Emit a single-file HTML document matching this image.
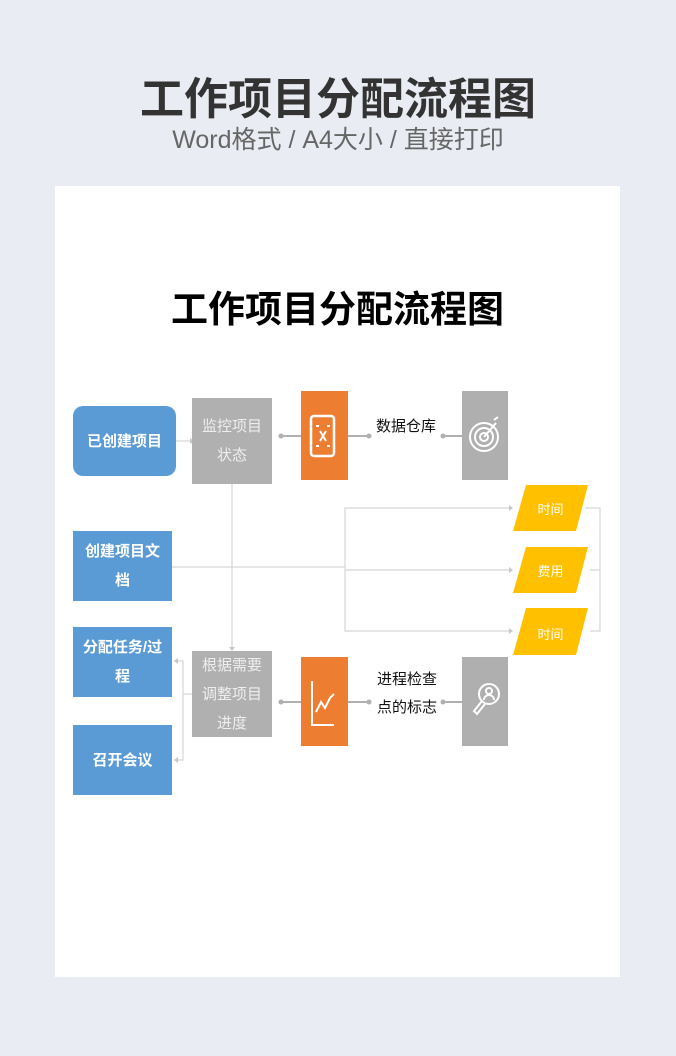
<!DOCTYPE html>
<html><head><meta charset="utf-8">
<style>
*{margin:0;padding:0;box-sizing:border-box}
body{width:676px;height:1056px;background:#e9edf3;position:relative;overflow:hidden;font-family:"Liberation Sans","Noto Sans CJK SC",sans-serif}
.a{position:absolute}
.t{display:flex;align-items:center;justify-content:center;text-align:center}
.blue{background:#5b9bd5;color:#fff;font-weight:bold;font-size:15px;line-height:29px}
.gray{background:#b0b0b0;color:#eee;font-size:15px;line-height:29px}
.org{background:#ed7d31}
.g2{background:#afafaf}
.y{color:#fff;font-size:13px}
</style></head><body>
<div class="a t" style="left:0;top:68px;width:676px;height:54px;font-size:44px;font-weight:bold;color:#333">工作项目分配流程图</div>
<div class="a t" style="left:0;top:122px;width:676px;height:32px;font-size:25px;color:#666">Word格式 / A4大小 / 直接打印</div>
<div class="a" style="left:55px;top:186px;width:565px;height:791px;background:#fff"></div>
<div class="a t" style="left:55px;top:284px;width:565px;height:44px;font-size:37px;font-weight:bold;color:#000">工作项目分配流程图</div>

<svg class="a" style="left:0;top:0" width="676" height="1056">
<g stroke="#d5d5d5" stroke-width="1.2" fill="none">
<line x1="176" y1="441" x2="190" y2="441"/>
<line x1="232" y1="484" x2="232" y2="649"/>
<line x1="172" y1="567" x2="345" y2="567"/>
<polyline points="510,508 345,508 345,631 510,631"/>
<line x1="345" y1="570" x2="510" y2="570"/>
<polyline points="585,508 600,508 600,631 590,631"/>
<line x1="590" y1="570" x2="600" y2="570"/>
<line x1="192" y1="694" x2="183" y2="694"/>
<polyline points="174,661 183,661 183,760 174,760"/>
</g>
<g fill="#c8c8c8">
<polygon points="190,438 190,444 194,441"/>
<polygon points="229,647 235,647 232,651"/>
<polygon points="509,505 509,511 513,508"/>
<polygon points="509,567 509,573 513,570"/>
<polygon points="509,628 509,634 513,631"/>
<polygon points="178,658 178,664 174,661"/>
<polygon points="178,757 178,763 174,760"/>
</g>
<g stroke="#b0b0b0" stroke-width="2">
<line x1="281" y1="436" x2="301" y2="436"/><line x1="348" y1="436" x2="368" y2="436"/>
<line x1="444" y1="436" x2="462" y2="436"/>
<line x1="281" y1="702" x2="301" y2="702"/><line x1="348" y1="702" x2="368" y2="702"/>
<line x1="444" y1="702" x2="462" y2="702"/>
</g>
<g fill="#b0b0b0"><circle cx="281" cy="436" r="2.5"/><circle cx="369" cy="436" r="2.5"/><circle cx="443" cy="436" r="2.5"/>
<circle cx="281" cy="702" r="2.5"/><circle cx="369" cy="702" r="2.5"/><circle cx="443" cy="702" r="2.5"/></g>
<g fill="#ffc000">
<polygon points="526,485 588,485 576,531 513,531"/>
<polygon points="526,547 588,547 576,593 513,593"/>
<polygon points="526,608 588,608 576,655 513,655"/>
</g>
</svg>

<div class="a t blue" style="left:73px;top:406px;width:103px;height:70px;border-radius:10px">已创建项目</div>
<div class="a t blue" style="left:73px;top:531px;width:99px;height:70px;padding:0 6px">创建项目文档</div>
<div class="a t blue" style="left:73px;top:627px;width:99px;height:70px;padding:0 6px">分配任务/过程</div>
<div class="a t blue" style="left:73px;top:725px;width:99px;height:70px">召开会议</div>
<div class="a t gray" style="left:192px;top:398px;width:80px;height:86px;padding:0 8px">监控项目状态</div>
<div class="a t gray" style="left:192px;top:651px;width:80px;height:86px;padding:0 8px">根据需要调整项目进度</div>

<div class="a org" style="left:301px;top:391px;width:47px;height:89px">
<svg width="47" height="89"><rect x="10" y="25" width="23" height="40" rx="3" fill="none" stroke="#fff" stroke-width="2.5"/><path d="M15 35h3M15 55h3M26 35h3M26 55h3M19 40l6 10M25 40l-6 10" stroke="#fff" stroke-width="2" fill="none"/></svg></div>
<div class="a org" style="left:301px;top:657px;width:47px;height:89px">
<svg width="47" height="89"><path d="M11 24v44h22" stroke="#fff" stroke-width="2" fill="none"/><path d="M15 55l5-10 4 6 5-10 4-4" stroke="#fff" stroke-width="2" fill="none"/></svg></div>
<div class="a g2" style="left:462px;top:391px;width:46px;height:89px">
<svg width="46" height="89"><g fill="none" stroke="#fff" stroke-width="2"><circle cx="22" cy="46" r="14"/><circle cx="22" cy="46" r="9"/><circle cx="22" cy="46" r="4"/><path d="M22 46l12-14M32 29l4-3"/></g></svg></div>
<div class="a g2" style="left:462px;top:657px;width:46px;height:89px">
<svg width="46" height="89"><g fill="none" stroke="#fff" stroke-width="2"><circle cx="27" cy="37" r="10"/><circle cx="27" cy="34" r="3"/><path d="M22 43a5 5 0 0 1 10 0"/><path d="M20 44l-8 10 3 3 8-10"/></g></svg></div>

<div class="a t" style="left:368px;top:413px;width:76px;height:24px;font-size:15px;color:#111">数据仓库</div>
<div class="a t" style="left:375px;top:666px;width:64px;height:56px;font-size:15px;color:#111;line-height:28px">进程检查点的标志</div>

<div class="a t y" style="left:513px;top:485px;width:75px;height:46px">时间</div>
<div class="a t y" style="left:513px;top:547px;width:75px;height:46px">费用</div>
<div class="a t y" style="left:513px;top:610px;width:75px;height:46px">时间</div>
</body></html>
